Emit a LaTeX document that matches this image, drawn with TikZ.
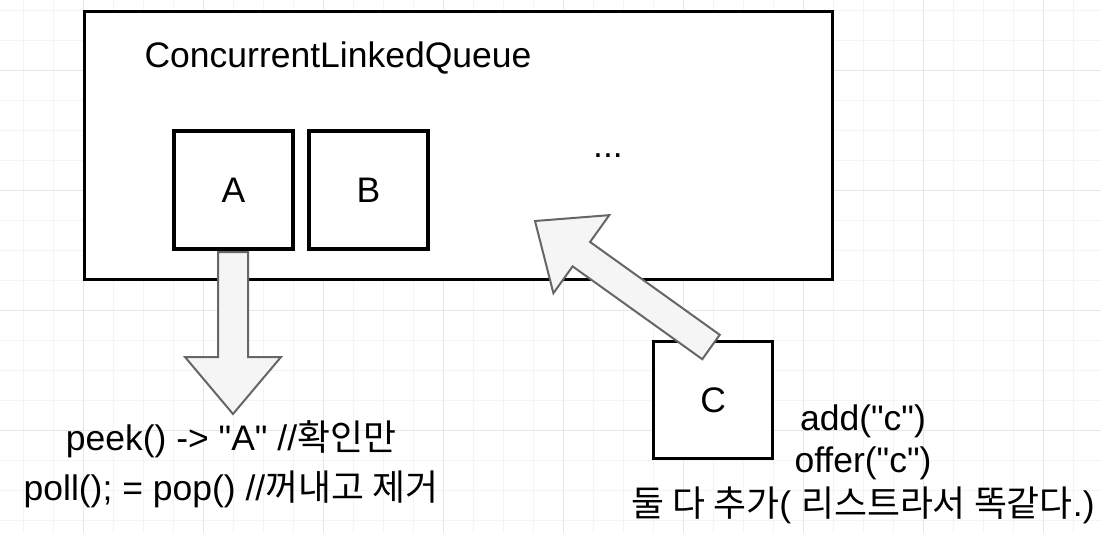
\documentclass[tikz,border=0pt]{standalone}
\usepackage{fontspec}
\setmainfont{Liberation Sans}[Ligatures=TeXOff]
\newfontfamily\kr{Noto Sans CJK KR}[Scale=1.01]
\usetikzlibrary{calc}
\definecolor{gridminor}{HTML}{F4F4F4}
\definecolor{gridmajor}{HTML}{E6E6E6}
\tikzset{
	cell/.style={draw, line width=3.3pt, fill=white, inner sep=0pt, minimum width=119pt, minimum height=118pt},
	fat arrow/.style={draw=black!60, fill=black!4, line width=2pt, line join=miter},
	every node/.style={font=\fontsize{35.5}{42}\selectfont}
}
\def\fatarrow(#1)(#2){\draw[fat arrow] ($(#1)!15pt!90:(#2)$) -- ($(#2)!57pt!(#1)!15pt!90:(#2)$) -- ($(#2)!57pt!(#1)!48pt!90:(#2)$) -- (#2) -- ($(#2)!57pt!(#1)!48pt!-90:(#2)$) -- ($(#2)!57pt!(#1)!15pt!-90:(#2)$) -- ($(#1)!15pt!-90:(#2)$) -- cycle;}

\begin{document}
\begin{tikzpicture}[x=1pt, y=-1pt]
			%%%%% START %%%%%
			\useasboundingbox (0, 0) rectangle (1101, 533);
			\fill[white] (0, 0) rectangle (1101, 533);
			
			\foreach \gx in {23, 53, ..., 1100} \draw[gridminor, line width=1pt] (\gx, 0) -- (\gx, 533);
			\foreach \gy in {10, 40, ..., 530} \draw[gridminor, line width=1pt] (0, \gy) -- (1101, \gy);
			\foreach \gx in {83, 203, ..., 1100} \draw[gridmajor, line width=1pt] (\gx, 0) -- (\gx, 533);
			\foreach \gy in {70, 190, 310, 430} \draw[gridmajor, line width=1pt] (0, \gy) -- (1101, \gy);
			
			\node[draw, line width=3.3pt, fill=white, inner sep=0pt, minimum width=748.5pt, minimum height=268.5pt] (queue) at (458.5, 145.5) {};
			\node[anchor=base] (queueTitle) at (338, 67) {ConcurrentLinkedQueue};
			
			\node[cell] (boxA) at (233.5, 190) {A};
			\node[cell] (boxB) at (368.5, 190) {B};
			\node[anchor=base] (rest) at (608, 157) {...};
			
			\node[cell, minimum height=117pt] (boxC) at (713.25, 400) {C};
			
			\coordinate (pollTail) at (233, 252);
			\coordinate (pollTip) at (233, 414);
			\fatarrow(pollTail)(pollTip)
			
			\coordinate (addTail) at (711, 347);
			\coordinate (addTip) at (535, 221);
			\fatarrow(addTail)(addTip)
			
			\node[anchor=base] (peekLine) at (231, 450) {peek() -> "A" //{\kr 확인만}};
			\node[anchor=base] (pollLine) at (231, 500) {poll(); = pop() //{\kr 꺼내고 제거}};
			
			\node[anchor=base] (addLine) at (863, 430) {add("c")};
			\node[anchor=base] (offerLine) at (863, 472) {offer("c")};
			\node[anchor=base] (bothLine) at (863, 516) {{\kr 둘 다 추가}( {\kr 리스트라서 똑같다}.)};
			%%%%% END %%%%%
\end{tikzpicture}
\end{document}
